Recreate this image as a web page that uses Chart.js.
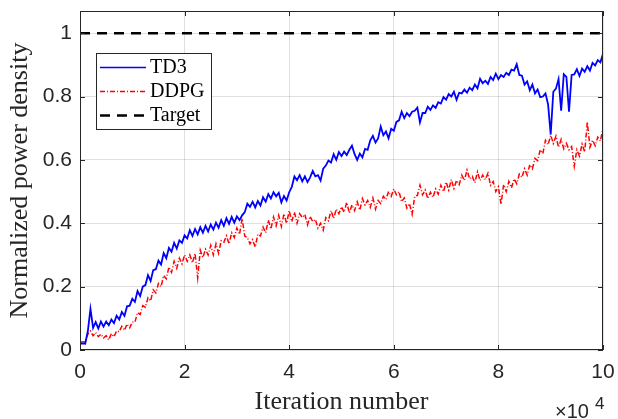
<!DOCTYPE html>
<html>
<head>
<meta charset="utf-8">
<script src="https://cdn.jsdelivr.net/npm/chart.js@4.4.0/dist/chart.umd.min.js"></script>
<style>
  html, body { margin: 0; padding: 0; background: #fff; }
  #wrap { width: 618px; height: 419px; }
</style>
</head>
<body>
<div id="wrap"><canvas id="chart" width="618" height="419"></canvas></div>
<script>
// iteration axis is in units of 1e4, one sample every 500 iterations
const iterStep = 0.05;
const xTicks = [0, 2, 4, 6, 8, 10];
const yTicks = [0, 0.2, 0.4, 0.6, 0.8, 1];
const targetLevel = 1;

const td3 = [
  0.02, 0.021, 0.02, 0.06, 0.13, 0.07, 0.088, 0.068, 0.09, 0.074,
  0.09, 0.078, 0.096, 0.085, 0.108, 0.096, 0.12, 0.108, 0.138, 0.14,
  0.162, 0.152, 0.186, 0.17, 0.2, 0.205, 0.236, 0.218, 0.252, 0.255,
  0.282, 0.27, 0.306, 0.29, 0.322, 0.31, 0.338, 0.32, 0.346, 0.338,
  0.362, 0.352, 0.378, 0.36, 0.382, 0.365, 0.388, 0.37, 0.392, 0.374,
  0.396, 0.38, 0.402, 0.386, 0.41, 0.392, 0.416, 0.398, 0.42, 0.402,
  0.422, 0.41, 0.425, 0.435, 0.462, 0.452, 0.468, 0.45, 0.47, 0.456,
  0.482, 0.468, 0.492, 0.478, 0.498, 0.485, 0.496, 0.466, 0.486, 0.472,
  0.498, 0.515, 0.548, 0.536, 0.552, 0.532, 0.548, 0.53, 0.545, 0.565,
  0.548, 0.552, 0.535, 0.572, 0.582, 0.598, 0.592, 0.618, 0.6, 0.625,
  0.612, 0.626, 0.615, 0.632, 0.645, 0.618, 0.6, 0.62, 0.608, 0.635,
  0.632, 0.662, 0.676, 0.655, 0.668, 0.705, 0.678, 0.69, 0.668, 0.698,
  0.692, 0.72, 0.725, 0.752, 0.732, 0.748, 0.738, 0.752, 0.755, 0.765,
  0.718, 0.748, 0.748, 0.768, 0.758, 0.772, 0.764, 0.782, 0.778, 0.798,
  0.79, 0.808, 0.8, 0.815, 0.79, 0.812, 0.81, 0.822, 0.812, 0.828,
  0.82, 0.838, 0.826, 0.856, 0.842, 0.85, 0.84, 0.862, 0.852, 0.872,
  0.855, 0.868, 0.862, 0.875, 0.868, 0.885, 0.882, 0.902, 0.868, 0.866,
  0.838, 0.848, 0.82, 0.838, 0.81, 0.822, 0.798, 0.8, 0.81, 0.775,
  0.68, 0.815, 0.825, 0.855, 0.755, 0.87, 0.862, 0.752, 0.868, 0.87,
  0.886, 0.865, 0.888, 0.878, 0.896, 0.882, 0.906, 0.898, 0.915, 0.908,
  0.935
];

const ddpg = [
  0.025, 0.025, 0.026, 0.05, 0.06, 0.045, 0.055, 0.042, 0.05, 0.038,
  0.045, 0.032, 0.052, 0.042, 0.06, 0.058, 0.075, 0.062, 0.082, 0.07,
  0.088, 0.088, 0.118, 0.112, 0.14, 0.135, 0.165, 0.155, 0.19, 0.18,
  0.21, 0.2, 0.235, 0.225, 0.262, 0.245, 0.28, 0.258, 0.29, 0.272,
  0.3, 0.28, 0.3, 0.275, 0.305, 0.228, 0.315, 0.292, 0.318, 0.3,
  0.33, 0.3, 0.335, 0.305, 0.345, 0.34, 0.36, 0.335, 0.37, 0.355,
  0.385, 0.365, 0.415, 0.36, 0.355, 0.335, 0.348, 0.325, 0.365, 0.36,
  0.388, 0.37, 0.41, 0.382, 0.42, 0.392, 0.425, 0.39, 0.43, 0.4,
  0.44, 0.405, 0.435, 0.4, 0.43, 0.418, 0.428, 0.395, 0.422, 0.405,
  0.412, 0.385, 0.4, 0.378, 0.418, 0.408, 0.44, 0.415, 0.445, 0.43,
  0.452, 0.435, 0.466, 0.432, 0.458, 0.44, 0.468, 0.442, 0.478, 0.458,
  0.472, 0.45, 0.48, 0.445, 0.472, 0.462, 0.485, 0.475, 0.5, 0.485,
  0.508, 0.49, 0.5, 0.468, 0.48, 0.448, 0.462, 0.428, 0.485, 0.488,
  0.52, 0.49, 0.505, 0.478, 0.498, 0.482, 0.508, 0.492, 0.52, 0.5,
  0.53, 0.505, 0.538, 0.51, 0.535, 0.522, 0.552, 0.535, 0.568, 0.54,
  0.548, 0.528, 0.562, 0.535, 0.552, 0.538, 0.558, 0.52, 0.532, 0.5,
  0.515, 0.46, 0.522, 0.5, 0.532, 0.512, 0.54, 0.525, 0.555, 0.545,
  0.572, 0.552, 0.585, 0.572, 0.605, 0.598, 0.632, 0.62, 0.662, 0.648,
  0.678, 0.652, 0.675, 0.64, 0.665, 0.635, 0.652, 0.632, 0.642, 0.58,
  0.632, 0.612, 0.65, 0.625, 0.72, 0.64, 0.662, 0.645, 0.672, 0.66,
  0.70
];

const AXIS_COLOR = '#262626';
const GRID_COLOR = 'rgba(38, 38, 38, 0.15)';
const SANS = '"Liberation Sans", Arial, sans-serif';
const SERIF = '"Liberation Serif", "Times New Roman", serif';

function toPoints(values) {
  return values.map((v, i) => ({ x: i * iterStep, y: v }));
}

const legendItems = [
  { label: 'TD3', color: '#0000ff', width: 1.3, dash: [] },
  { label: 'DDPG', color: '#ff0000', width: 1.3, dash: [5, 2, 1, 2] },
  { label: 'Target', color: '#000000', width: 2.5, dash: [10, 7] }
];

// box, inner ticks, axis titles, exponent label and legend drawn MATLAB style
const matlabFrame = {
  id: 'matlabFrame',
  afterDraw(chart) {
    const ctx = chart.ctx;
    const { left, right, top, bottom } = chart.chartArea;
    ctx.save();

    // inner tick marks
    ctx.strokeStyle = AXIS_COLOR;
    ctx.lineWidth = 1;
    ctx.beginPath();
    xTicks.forEach(v => {
      const px = Math.round(chart.scales.x.getPixelForValue(v)) + 0.5;
      ctx.moveTo(px, bottom); ctx.lineTo(px, bottom - 5);
      ctx.moveTo(px, top); ctx.lineTo(px, top + 5);
    });
    yTicks.forEach(v => {
      const py = Math.round(chart.scales.y.getPixelForValue(v)) + 0.5;
      ctx.moveTo(left, py); ctx.lineTo(left + 5, py);
      ctx.moveTo(right, py); ctx.lineTo(right - 5, py);
    });
    ctx.stroke();

    // axes box
    ctx.strokeRect(Math.round(left) + 0.5, Math.round(top) + 0.5,
      Math.round(right - left) - 1, Math.round(bottom - top) - 1);

    // axis titles
    ctx.fillStyle = AXIS_COLOR;
    ctx.font = '26px ' + SERIF;
    ctx.textAlign = 'center';
    ctx.textBaseline = 'middle';
    ctx.fillText('Iteration number', (left + right) / 2, 402);
    ctx.save();
    ctx.translate(20, (top + bottom) / 2);
    ctx.rotate(-Math.PI / 2);
    ctx.fillText('Normalized power density', 0, 0);
    ctx.restore();

    // x10^4 exponent
    ctx.textAlign = 'left';
    ctx.textBaseline = 'alphabetic';
    ctx.font = '20px ' + SANS;
    ctx.fillText('\u00d710', 555, 418);
    ctx.font = '17px ' + SANS;
    ctx.fillText('4', 595, 409);

    // legend
    const lx = 96, ly = 53, lw = 115, lh = 76;
    ctx.fillStyle = '#ffffff';
    ctx.fillRect(lx, ly, lw, lh);
    ctx.strokeStyle = AXIS_COLOR;
    ctx.lineWidth = 1;
    ctx.setLineDash([]);
    ctx.strokeRect(lx + 0.5, ly + 0.5, lw, lh);
    ctx.font = '20px ' + SERIF;
    ctx.textBaseline = 'middle';
    legendItems.forEach((item, i) => {
      const ry = ly + 14 + i * 24;
      ctx.strokeStyle = item.color;
      ctx.lineWidth = item.width;
      ctx.setLineDash(item.dash);
      ctx.beginPath();
      ctx.moveTo(lx + 4, ry + 0.5);
      ctx.lineTo(lx + 50, ry + 0.5);
      ctx.stroke();
      ctx.fillStyle = '#000000';
      ctx.fillText(item.label, lx + 54, ry + 1);
    });
    ctx.restore();
  }
};

// drop the label-based edge padding so the plot box sits where the layout padding puts it
function noEdgePadding(s) {
  s.paddingTop = 0;
  s.paddingBottom = 0;
  s.paddingLeft = 0;
  s.paddingRight = 0;
}

const chart = new Chart(document.getElementById('chart').getContext('2d'), {
  type: 'line',
  data: {
    datasets: [
      {
        label: 'TD3',
        data: toPoints(td3),
        borderColor: '#0000ff',
        borderWidth: 1.8,
        pointRadius: 0,
        tension: 0,
        order: 1
      },
      {
        label: 'DDPG',
        data: toPoints(ddpg),
        borderColor: '#ff0000',
        borderWidth: 1.5,
        borderDash: [5, 2, 1, 2],
        pointRadius: 0,
        tension: 0,
        order: 2
      },
      {
        label: 'Target',
        data: [{ x: 0, y: targetLevel }, { x: 10, y: targetLevel }],
        borderColor: '#000000',
        borderWidth: 2.5,
        borderDash: [10, 7],
        pointRadius: 0,
        order: 0
      }
    ]
  },
  options: {
    responsive: false,
    animation: false,
    devicePixelRatio: 1,
    layout: { padding: { top: 11, right: 15, left: 0, bottom: 0 } },
    plugins: {
      legend: { display: false },
      tooltip: { enabled: false }
    },
    scales: {
      x: {
        type: 'linear',
        min: 0,
        max: 10,
        afterBuildTicks: s => { s.ticks = xTicks.map(v => ({ value: v })); },
        afterFit: s => { s.height = 69; noEdgePadding(s); },
        ticks: {
          color: AXIS_COLOR,
          font: { family: SANS, size: 21 },
          padding: 10,
          maxRotation: 0
        },
        grid: { color: GRID_COLOR, drawTicks: false },
        border: { display: false }
      },
      y: {
        min: 0,
        max: 1.07,
        afterBuildTicks: s => { s.ticks = yTicks.map(v => ({ value: v })); },
        afterFit: s => { s.width = 80; noEdgePadding(s); },
        ticks: {
          color: AXIS_COLOR,
          font: { family: SANS, size: 21 },
          padding: 8,
          callback: v => String(Math.round(v * 10) / 10)
        },
        grid: { color: GRID_COLOR, drawTicks: false },
        border: { display: false }
      }
    }
  },
  plugins: [matlabFrame]
});
</script>
</body>
</html>
